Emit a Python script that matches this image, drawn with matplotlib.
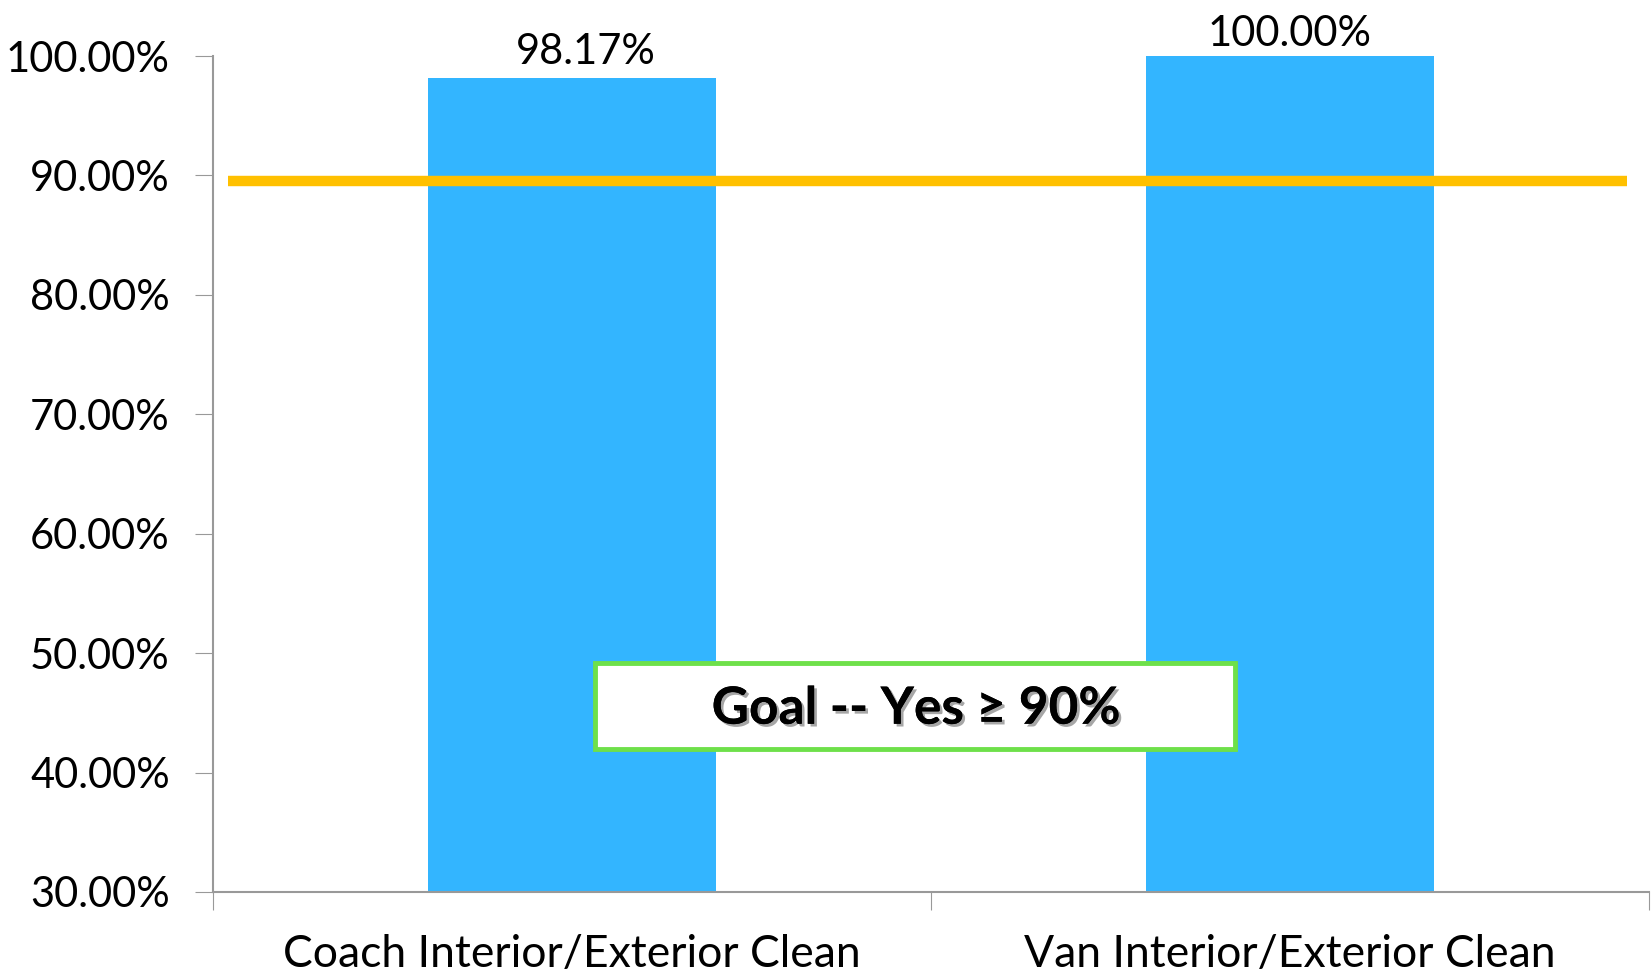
import matplotlib
matplotlib.use("Agg")
import matplotlib.pyplot as plt
import matplotlib.patheffects as pe
from matplotlib.patches import Rectangle

# data
categories = ["Coach Interior/Exterior Clean", "Van Interior/Exterior Clean"]
values = [98.17, 100.00]
goal = 89.5
yticks = [30, 40, 50, 60, 70, 80, 90, 100]

bar_color = "#33B5FF"
goal_color = "#FFC000"

plt.rcParams['font.family'] = ['Lato', 'DejaVu Sans']

fig = plt.figure(figsize=(16.52, 9.73), dpi=100)
ax = fig.add_axes([0.1289, 0.0833, 0.8693, 0.8591])

x = range(len(categories))
bars = ax.bar(x, values, width=0.4, color=bar_color, zorder=2)

# labels above bars
offsets = [(10, 5), (0, 2)]
for i, v in enumerate(values):
    ax.annotate("%.2f%%" % v, (i, v), xytext=offsets[i],
                textcoords="offset points", ha="center", va="bottom", fontsize=30)

# goal line
ax.plot([-0.479, 1.47], [goal, goal], color=goal_color, lw=7.5, solid_capstyle="butt", zorder=3)

# goal box
ax.add_patch(Rectangle((0.032, 42.0), 0.891, 7.2, fc="white", ec="#6EE04A", lw=3.5, zorder=4))
ax.text(0.479, 45.3, "Goal -- Yes \u2265 90%", ha="center", va="center", fontsize=37,
        fontweight="bold", zorder=5,
        path_effects=[pe.withSimplePatchShadow(offset=(2, -2), alpha=0.35), pe.Normal()])

ax.set_xlim(-0.5, 1.5)
ax.set_ylim(30, 100)
ax.set_yticks(yticks)
ax.set_yticklabels(["%.2f%%" % t for t in yticks], fontsize=30)

ax.set_xticks([-0.5, 0.5, 1.5])
ax.set_xticklabels([])
ax.set_xticks(list(x), minor=True)
ax.set_xticklabels(categories, minor=True, fontsize=32)
ax.tick_params(axis="x", which="minor", length=0, pad=30)
ax.tick_params(axis="x", which="major", length=13, color="#999999", direction="out")
ax.tick_params(axis="y", length=13, color="#999999", direction="out", pad=18)

for s in ["top", "right"]:
    ax.spines[s].set_visible(False)
for s in ["left", "bottom"]:
    ax.spines[s].set_color("#999999")
    ax.spines[s].set_linewidth(1.5)

fig.savefig("out.png", dpi=100)
